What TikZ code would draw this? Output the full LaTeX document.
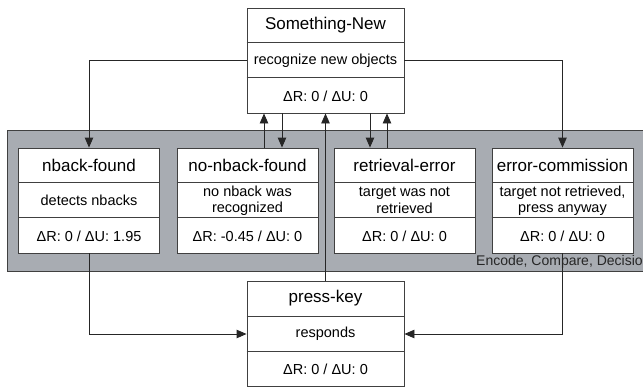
\documentclass[tikz,border=0pt]{standalone}
\usepackage{fontspec}
\setmainfont{Liberation Sans}
\usetikzlibrary{arrows.meta,calc}
\definecolor{bandgray}{HTML}{A8ACB2}
\definecolor{linegray}{HTML}{404040}
\tikzset{
  umlouter/.style={draw=linegray, line width=0.9pt, fill=white, rectangle, inner sep=0pt, minimum height=105pt},
  divider/.style={draw=linegray, line width=0.9pt},
  titletext/.style={font=\fontsize{17}{20}\selectfont, align=center, inner sep=0pt},
  bodytext/.style={font=\fontsize{14.5}{16.5}\selectfont, align=center, inner sep=0pt},
  conn/.style={draw=black!85, line width=0.9pt, -{Triangle[length=10pt,width=8.5pt]}},
  bandlabel/.style={font=\fontsize{14}{16}\selectfont, inner sep=0pt, text=black!85}
}
\newcommand\umlbox[7]{%
  \node[umlouter, minimum width=#4pt] (#1) at (#2,#3) {};
  \draw[divider] ($(#1.north west)+(0,35)$) -- ($(#1.north east)+(0,35)$);
  \draw[divider] ($(#1.north west)+(0,70)$) -- ($(#1.north east)+(0,70)$);
  \node[titletext] (#1-t) at ($(#1.north)+(0,17.5)$) {#5};
  \node[bodytext] (#1-b) at (#1.center) {#6};
  \node[bodytext] (#1-d) at ($(#1.south)+(0,-17.5)$) {#7};
}
\begin{document}
\begin{tikzpicture}[x=1pt,y=-1pt]
\useasboundingbox (0,0) rectangle (643,388);
% band
\node[draw=linegray, line width=0.9pt, fill=bandgray, rectangle, inner sep=0pt,
      minimum width=650pt, minimum height=141pt, anchor=north west] (band) at (7,130) {};
\node[bandlabel, anchor=base west] (bandtxt) at (476,265) {Encode, Compare, Decision};
% boxes
\umlbox{sn}{325.5}{60.5}{157}{Something-New}{recognize new objects}{ΔR: 0 / ΔU: 0}
\umlbox{nb}{89}{200.5}{141}{nback-found}{detects nbacks}{ΔR: 0 / ΔU: 1.95}
\umlbox{nnb}{247.5}{200.5}{141}{no-nback-found}{no nback was\\recognized}{ΔR: -0.45 / ΔU: 0}
\umlbox{re}{404.5}{200.5}{141}{retrieval-error}{target was not\\retrieved}{ΔR: 0 / ΔU: 0}
\umlbox{ec}{562.5}{200.5}{141}{error-commission}{target not retrieved,\\press anyway}{ΔR: 0 / ΔU: 0}
\umlbox{pk}{325.5}{334}{157}{press-key}{responds}{ΔR: 0 / ΔU: 0}
% connector anchors on Something-New bottom
\coordinate (a1) at ($(sn.south)+(-61.5,0)$);
\coordinate (a2) at ($(sn.south)+(-43.5,0)$);
\coordinate (a3) at ($(sn.south)+(44.5,0)$);
\coordinate (a4) at ($(sn.south)+(61.5,0)$);
% connectors
\draw[conn] (sn.west) -| (nb.north);
\draw[conn] (sn.east) -| (ec.north);
\draw[conn] (a1 |- nnb.north) -- (a1);
\draw[conn] (a2) -- (a2 |- nnb.north);
\draw[conn] (a3) -- (a3 |- re.north);
\draw[conn] (a4 |- re.north) -- (a4);
\draw[conn] (pk.north) -- (pk.north |- sn.south);
\draw[conn] (nb.south) |- (pk.west);
\draw[conn] (ec.south) |- (pk.east);
\end{tikzpicture}
\end{document}
